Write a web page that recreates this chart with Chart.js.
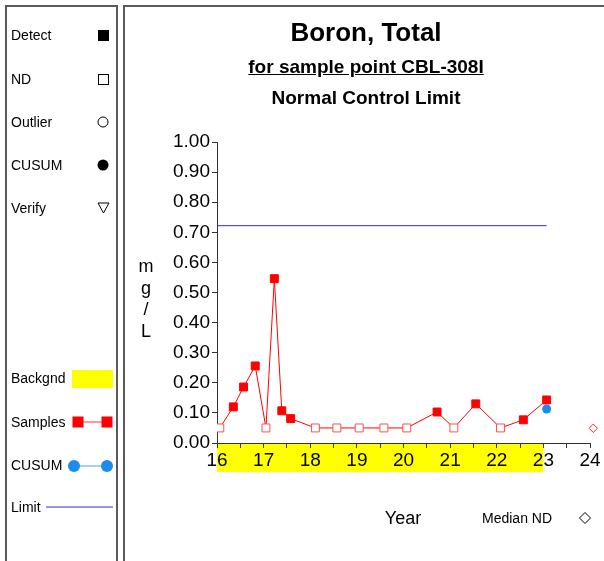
<!DOCTYPE html>
<html>
<head>
<meta charset="utf-8">
<script src="https://cdn.jsdelivr.net/npm/chart.js@4.4.1/dist/chart.umd.min.js"></script>
<style>
body{margin:0;width:604px;height:561px;overflow:hidden;background:#fff;position:relative;font-family:"Liberation Sans",Arial,sans-serif}
#chart{position:absolute;left:0;top:0}
.panel{position:absolute;border:2px solid #5a5a5a;border-bottom:none}
.t{position:absolute;white-space:nowrap;color:#000;line-height:16px;font-size:14px}
.c{position:absolute;text-align:center;font-weight:bold;color:#000;white-space:nowrap}
svg{position:absolute;left:0;top:0}
</style>
</head>
<body>
<canvas id="chart" width="604" height="561"></canvas>

<div class="panel" style="left:5px;top:5px;width:109px;height:570px"></div>
<div class="panel" style="left:123px;top:5px;width:500px;height:570px;border-right:none"></div>

<!-- left legend -->
<div class="t" style="left:11px;top:27px">Detect</div>
<div class="t" style="left:11px;top:71px">ND</div>
<div class="t" style="left:11px;top:114px">Outlier</div>
<div class="t" style="left:11px;top:157px">CUSUM</div>
<div class="t" style="left:11px;top:200px">Verify</div>
<div class="t" style="left:11px;top:370px">Backgnd</div>
<div class="t" style="left:11px;top:414px">Samples</div>
<div class="t" style="left:11px;top:457px">CUSUM</div>
<div class="t" style="left:11px;top:499px">Limit</div>
<svg width="120" height="561">
  <rect x="98" y="30" width="11" height="11" fill="#000"/>
  <rect x="98.5" y="74.5" width="10" height="10" fill="none" stroke="#000" stroke-width="1"/>
  <circle cx="103" cy="122" r="5" fill="none" stroke="#000" stroke-width="1"/>
  <circle cx="103" cy="165" r="5.5" fill="#000"/>
  <polygon points="98,203 109,203 103.5,213" fill="none" stroke="#000" stroke-width="1"/>
  <rect x="72" y="370" width="41" height="18" fill="#ffff00"/>
  <line x1="78" y1="422" x2="107" y2="422" stroke="#ff3030" stroke-width="1"/>
  <rect x="72.5" y="416.5" width="11" height="11" fill="#ff0000"/>
  <rect x="101.5" y="416.5" width="11" height="11" fill="#ff0000"/>
  <line x1="74" y1="466" x2="107" y2="466" stroke="#4aa0f0" stroke-width="1"/>
  <circle cx="74" cy="466" r="6" fill="#1a8cf0"/>
  <circle cx="107" cy="466" r="6" fill="#1a8cf0"/>
  <line x1="46" y1="507" x2="113" y2="507" stroke="#2b2bd8" stroke-width="1"/>
</svg>

<!-- titles -->
<div class="c" style="left:124px;width:484px;top:17px;font-size:26px;line-height:30px">Boron, Total</div>
<div class="c" style="left:124px;width:484px;top:56px;font-size:19px;line-height:22px;text-decoration:underline">for sample point CBL-308I</div>
<div class="c" style="left:124px;width:484px;top:87px;font-size:19px;line-height:22px">Normal Control Limit</div>

<!-- axis titles -->
<div style="position:absolute;left:136px;top:256px;width:20px;text-align:center;font-size:18px;line-height:21.5px;color:#000">m<br>g<br>/<br>L</div>
<div style="position:absolute;left:363px;width:80px;top:507px;text-align:center;font-size:18px;line-height:22px;color:#000">Year</div>
<div class="t" style="left:482px;top:510px">Median ND</div>
<svg width="604" height="561" style="pointer-events:none">
  <polygon points="585,512.5 590.5,518 585,523.5 579.5,518" fill="none" stroke="#000" stroke-width="1"/>
</svg>

<script>
// sample dates (decimal year, 2 digit) and results in mg/L
const sampleYears  = [16.06, 16.35, 16.57, 16.82, 17.05, 17.23, 17.39, 17.58, 18.11, 18.57, 19.05, 19.58, 20.07, 20.72, 21.08, 21.55, 22.08, 22.57, 23.07];
const sampleValues = [0.05, 0.12, 0.186, 0.256, 0.05, 0.546, 0.107, 0.081, 0.05, 0.05, 0.05, 0.05, 0.05, 0.103, 0.05, 0.13, 0.05, 0.077, 0.143];
const sampleND     = [true, false, false, false, true, false, false, false, true, true, true, true, true, false, true, false, true, false, false];

const cusumYears  = [23.07];
const cusumValues = [0.113];

const limitValue = 0.722;
const limitYears = [16, 23.07];

const medianNDYear  = [24.07];
const medianNDValue = [0.049];

const backgroundYears = [16, 23];

const xMin = 16, xMax = 24;
const yMin = 0, yMax = 1;

const FONT = '"Liberation Sans", Arial, sans-serif';

// yellow background period under the x axis
const bgBand = {
  id: 'bgBand',
  beforeDraw(chart) {
    const x = chart.scales.x, a = chart.chartArea, c = chart.ctx;
    const x0 = x.getPixelForValue(backgroundYears[0]);
    const x1 = x.getPixelForValue(backgroundYears[1]);
    c.save();
    c.fillStyle = '#ffff00';
    c.fillRect(x0, a.bottom, x1 - x0, 29);
    c.restore();
  }
};

const ctx = document.getElementById('chart');
new Chart(ctx, {
  type: 'scatter',
  data: {
    datasets: [
      {
        label: 'Limit',
        data: limitYears.map(x => ({x: x, y: limitValue})),
        showLine: true, borderColor: '#2b2bd8', borderWidth: 1, pointRadius: 0
      },
      {
        label: 'Samples',
        data: sampleYears.map((x, i) => ({x: x, y: sampleValues[i]})),
        showLine: true, borderColor: '#ff0000', borderWidth: 1,
        pointStyle: 'rect', pointRadius: 5.6, pointBorderWidth: 1,
        pointBackgroundColor: sampleND.map(nd => nd ? '#ffffff' : '#ff0000'),
        pointBorderColor: sampleND.map(nd => nd ? '#ff5050' : '#ff0000')
      },
      {
        label: 'CUSUM',
        data: cusumYears.map((x, i) => ({x: x, y: cusumValues[i]})),
        pointStyle: 'circle', pointRadius: 4.5,
        backgroundColor: '#1a8cf0', borderColor: '#1a8cf0', borderWidth: 0
      },
      {
        label: 'Median ND',
        data: medianNDYear.map((x, i) => ({x: x, y: medianNDValue[i]})),
        pointStyle: 'rectRot', pointRadius: 4.2, pointBorderWidth: 1,
        backgroundColor: '#ffffff', borderColor: '#ff2020', clip: false
      }
    ]
  },
  options: {
    responsive: false,
    animation: false,
    events: [],
    layout: {padding: {left: 157, top: 142, right: 14, bottom: 78}},
    plugins: {legend: {display: false}, tooltip: {enabled: false}},
    scales: {
      x: {
        type: 'linear', min: xMin, max: xMax,
        afterFit: s => { s.height = 40; },
        ticks: {
          stepSize: 0.5, autoSkip: false, maxRotation: 0, padding: 1,
          color: '#000', font: {size: 19, family: FONT},
          callback: v => Number.isInteger(v) ? String(v) : ''
        },
        grid: {drawOnChartArea: false, tickLength: 5, color: '#333'},
        border: {color: '#333'}
      },
      y: {
        min: yMin, max: yMax,
        afterFit: s => { s.width = 60; },
        ticks: {
          stepSize: 0.1, padding: 2,
          color: '#000', font: {size: 19, family: FONT},
          callback: v => v.toFixed(2)
        },
        grid: {drawOnChartArea: false, tickLength: 5, color: '#333'},
        border: {color: '#333'}
      }
    }
  },
  plugins: [bgBand]
});
</script>
</body>
</html>
